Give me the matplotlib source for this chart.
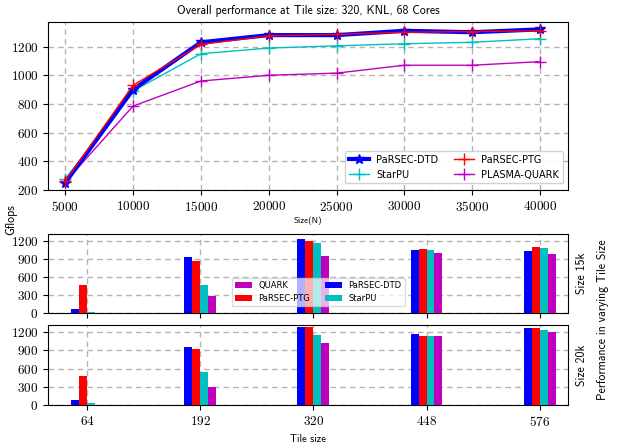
import numpy as np
import matplotlib
matplotlib.use("Agg")
import matplotlib.pyplot as plt

plt.rcParams['font.family'] = ['cmss10', 'DejaVu Sans']
plt.rcParams['axes.formatter.use_mathtext'] = True

# matrix sizes, overall performance at tile size 320
sizes = [5000, 10000, 15000, 20000, 25000, 30000, 35000, 40000]
dtd = [250, 900, 1230, 1280, 1280, 1310, 1300, 1320]
ptg = [260, 930, 1215, 1275, 1285, 1300, 1305, 1310]
starpu = [275, 890, 1150, 1190, 1205, 1220, 1230, 1255]
quark = [255, 785, 960, 1000, 1015, 1070, 1070, 1095]

# varying tile size
tiles = [64, 192, 320, 448, 576]
dtd_15k = [70, 940, 1230, 1055, 1040]
ptg_15k = [460, 870, 1200, 1070, 1100]
starpu_15k = [20, 460, 1170, 1055, 1085]
quark_15k = [5, 280, 955, 1005, 990]

dtd_20k = [75, 960, 1280, 1175, 1265]
ptg_20k = [480, 920, 1280, 1140, 1265]
starpu_20k = [25, 550, 1160, 1140, 1245]
quark_20k = [5, 295, 1020, 1140, 1210]

fig = plt.figure(figsize=(6.18, 4.44), dpi=100)

tick_font = {'family': 'cmr10', 'size': 9.5}
grid_kw = dict(color='#b4b4b4', linestyle=(0, (4, 3)), linewidth=1.0)

# top: overall performance
ax = fig.add_axes([0.078, 0.572, 0.841, 0.378])
ax.plot(sizes, dtd, color='b', lw=3, marker='*', ms=7, label='PaRSEC-DTD', zorder=5)
ax.plot(sizes, ptg, color='r', lw=1, marker='+', ms=8, label='PaRSEC-PTG', zorder=6)
ax.plot(sizes, starpu, color='c', lw=1, marker='+', ms=8, label='StarPU', zorder=4)
ax.plot(sizes, quark, color='m', lw=1, marker='+', ms=8, label='PLASMA-QUARK', zorder=4)
ax.set_xlim(3750, 42050)
ax.set_ylim(200, 1370)
ax.set_xticks(sizes)
ax.set_yticks([200, 400, 600, 800, 1000, 1200])
ax.grid(True, **grid_kw)
ax.set_axisbelow(True)
for lab in ax.get_xticklabels() + ax.get_yticklabels():
    lab.set_fontproperties(tick_font)
ax.set_xlabel('Size(N)', fontsize=6.5, labelpad=2)
ax.set_title('Overall performance at Tile size: 320, KNL, 68 Cores', fontsize=8.5)
h, l = ax.get_legend_handles_labels()
ax.legend([h[0], h[2], h[1], h[3]], [l[0], l[2], l[1], l[3]],
          ncol=2, loc='lower right', handlelength=2.0,
          prop={'family': 'DejaVu Sans', 'size': 7},
          columnspacing=1.6, framealpha=0.9, borderpad=0.4,
          bbox_to_anchor=(1.0, 0.01))

# bar charts
width = 9
offsets = [-1.5 * width, -0.5 * width, 0.5 * width, 1.5 * width]
colors = ['b', 'r', 'c', 'm']
names = ['PaRSEC-DTD', 'PaRSEC-PTG', 'StarPU', 'QUARK']

def bar_panel(rect, series, side_label, show_x):
    a = fig.add_axes(rect)
    x = np.array(tiles)
    bars = []
    for off, vals, c, n in zip(offsets, series, colors, names):
        bars.append(a.bar(x + off, vals, width, color=c, label=n, zorder=3))
    a.set_xlim(20, 608)
    a.set_ylim(0, 1320)
    a.set_xticks(tiles)
    a.set_yticks([0, 300, 600, 900, 1200])
    a.grid(True, **grid_kw)
    a.set_axisbelow(True)
    if not show_x:
        a.set_xticklabels([])
    for lab in a.get_xticklabels() + a.get_yticklabels():
        lab.set_fontproperties(tick_font)
    a.yaxis.set_label_position('right')
    a.set_ylabel(side_label, fontsize=8.5, labelpad=6)
    return a, bars

ax1, bars1 = bar_panel([0.078, 0.295, 0.841, 0.178],
                       [dtd_15k, ptg_15k, starpu_15k, quark_15k], 'Size 15k', False)
ax2, bars2 = bar_panel([0.078, 0.088, 0.841, 0.180],
                       [dtd_20k, ptg_20k, starpu_20k, quark_20k], 'Size 20k', True)
ax2.set_xlabel('Tile size', fontsize=7.5, labelpad=4)

ax1.legend([bars1[3], bars1[1], bars1[0], bars1[2]],
           ['QUARK', 'PaRSEC-PTG', 'PaRSEC-DTD', 'StarPU'],
           ncol=2, prop={'family': 'DejaVu Sans', 'size': 6},
           loc='lower left', bbox_to_anchor=(0.345, 0.03),
           framealpha=0.7, handlelength=2.0, columnspacing=1.8)

fig.text(0.975, 0.28, 'Performance in varying Tile Size', rotation=90,
         ha='center', va='center', fontsize=8.5)
fig.text(0.018, 0.505, 'Gflops', rotation=90, ha='center', va='center', fontsize=8.5)

fig.savefig('out.png', dpi=100)
